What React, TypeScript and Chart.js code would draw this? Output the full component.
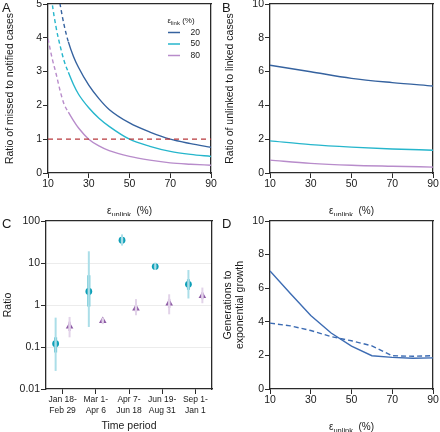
import React, { useEffect, useRef } from "react";
import { Chart, registerables } from "chart.js";

Chart.register(...registerables);

const FONT = "'Liberation Sans', Arial, Helvetica, sans-serif";
const W = 220;
const H = 216;

// ---------- Panel A: ratio of missed to notified cases ----------
const epsA = [10, 12, 14, 16, 18, 20, 22.5, 25, 30, 35, 40, 50, 60, 70, 80, 90];
const missed20 = [7.9, 6.7, 5.7, 4.97, 4.35, 3.88, 3.45, 3.12, 2.6, 2.2, 1.88, 1.48, 1.21, 1.0, 0.87, 0.76];
const missed50 = [6.2, 5.05, 4.3, 3.75, 3.3, 2.98, 2.62, 2.33, 1.93, 1.62, 1.38, 1.0, 0.79, 0.64, 0.55, 0.49];
const missed80 = [3.97, 3.4, 2.93, 2.42, 2.02, 1.8, 1.55, 1.33, 1.0, 0.8, 0.66, 0.49, 0.38, 0.3, 0.26, 0.23];
const dashedUntilEps = 20;
const referenceRatio = 1;
const linkLabels = ["20", "50", "80"];

// ---------- Panel B: ratio of unlinked to linked cases ----------
const epsB = [10, 30, 50, 70, 90];
const unlinked20 = [6.38, 5.99, 5.6, 5.35, 5.15];
const unlinked50 = [1.9, 1.68, 1.53, 1.42, 1.35];
const unlinked80 = [0.76, 0.57, 0.46, 0.4, 0.35];

// ---------- Panel C: ratios by time period ----------
const periods = [
  ["Jan 18-", "Feb 29"],
  ["Mar 1-", "Apr 6"],
  ["Apr 7-", "Jun 18"],
  ["Jun 19-", "Aug 31"],
  ["Sep 1-", "Jan 1"],
];
const circleRatio = [0.12, 2.1, 35, 8.2, 3.1];
const circleLo95 = [0.027, 0.3, 26, 6.8, 1.43];
const circleHi95 = [0.5, 19, 48, 10.2, 6.8];
const circleLo50 = [0.074, 0.92, 31, 7.6, 2.3];
const circleHi50 = [0.17, 5.1, 40, 9, 4.1];
const triRatio = [0.31, 0.42, 0.83, 1.1, 1.65];
const triLo95 = [0.17, 0.35, 0.57, 0.6, 1.1];
const triHi95 = [0.52, 0.5, 1.38, 1.8, 2.6];
const triLo50 = [0.24, 0.39, 0.7, 0.85, 1.38];
const triHi50 = [0.4, 0.46, 1.0, 1.4, 2.0];
const logTickValues = [0.01, 0.1, 1, 10, 100];
const logTickLabels = ["0.01", "0.1", "1", "10", "100"];

// ---------- Panel D: generations to exponential growth ----------
const epsD = [10, 20, 30, 40, 50, 60, 70, 80, 90];
const genSolid = [7.03, 5.68, 4.38, 3.33, 2.55, 1.98, 1.88, 1.83, 1.85];
const genDashed = [3.92, 3.76, 3.48, 3.12, 2.87, 2.57, 1.98, 1.95, 1.98];

const epsTicks = [10, 30, 50, 70, 90];

const BLUE = "#35629f";
const CYAN = "#26b6cc";
const PURPLE = "#b88ccb";
const RED = "#b8393c";
const DBLUE = "#3d6cb3";
const BOX = "#2a2a2a";
const TXT = "#1a1a1a";
const FRAME_W = 1.3;

type Area = { l: number; t: number; r: number; b: number };

function xy(xs: number[], ys: number[]) {
  return xs.map((x, i) => ({ x, y: ys[i] }));
}

function drawEpsLabel(ctx: CanvasRenderingContext2D, cx: number, y: number, sub: string, big: number, small: number, gap: string) {
  ctx.textBaseline = "alphabetic";
  ctx.textAlign = "left";
  ctx.font = `${big}px ${FONT}`;
  const w1 = ctx.measureText("ε").width;
  const w3 = ctx.measureText(gap + "(%)").width;
  ctx.font = `${small}px ${FONT}`;
  const w2 = ctx.measureText(sub).width;
  let x = cx - (w1 + w2 + w3) / 2;
  ctx.font = `${big}px ${FONT}`;
  ctx.fillText("ε", x, y);
  x += w1;
  ctx.font = `${small}px ${FONT}`;
  ctx.fillText(sub, x, y + small * 0.35);
  x += w2;
  ctx.font = `${big}px ${FONT}`;
  ctx.fillText(gap + "(%)", x, y);
}

type Deco = {
  letter: string;
  yTitle: string[];
  yTitleX: number[];
  xTitle: string | null; // null => epsilon unlink title
  legend?: boolean;
};

function decoPlugin(d: Deco) {
  return {
    id: "deco" + d.letter,
    afterDraw(chart: any) {
      const ctx: CanvasRenderingContext2D = chart.ctx;
      const a = chart.chartArea;
      ctx.save();
      ctx.fillStyle = TXT;
      // panel letter
      ctx.font = `13px ${FONT}`;
      ctx.textAlign = "left";
      ctx.textBaseline = "alphabetic";
      ctx.fillText(d.letter, 2, 12);
      // y title
      const cy = (a.top + a.bottom) / 2;
      ctx.font = `10.5px ${FONT}`;
      d.yTitle.forEach((line, i) => {
        ctx.save();
        ctx.translate(d.yTitleX[i], cy);
        ctx.rotate(-Math.PI / 2);
        ctx.textAlign = "center";
        ctx.textBaseline = "middle";
        ctx.fillText(line, 0, 0);
        ctx.restore();
      });
      // x title
      const cx = (a.left + a.right) / 2;
      if (d.xTitle === null) {
        drawEpsLabel(ctx, cx, 214, "unlink", 10, 7.5, "  ");
      } else {
        ctx.font = `10.5px ${FONT}`;
        ctx.textAlign = "center";
        ctx.textBaseline = "middle";
        ctx.fillText(d.xTitle, cx, 210);
      }
      // legend
      if (d.legend) {
        drawEpsLabel(ctx, 181, 23, "link", 8, 6, " ");
        const cols = [BLUE, CYAN, PURPLE];
        const rows = [32.5, 44, 55.5];
        rows.forEach((ry, i) => {
          ctx.strokeStyle = cols[i];
          ctx.lineWidth = 1.5;
          ctx.beginPath();
          ctx.moveTo(168, ry);
          ctx.lineTo(180, ry);
          ctx.stroke();
          ctx.font = `8.5px ${FONT}`;
          ctx.textAlign = "right";
          ctx.textBaseline = "middle";
          ctx.fillStyle = TXT;
          ctx.fillText(linkLabels[i], 200, ry);
        });
      }
      ctx.restore();
    },
  };
}

function axisCommon(extra: any = {}) {
  return {
    border: { display: true, color: BOX, width: FRAME_W },
    grid: {
      display: true,
      drawOnChartArea: false,
      drawTicks: true,
      tickLength: 5,
      tickColor: BOX,
      tickWidth: 1,
      lineWidth: 1,
      ...(extra.grid || {}),
    },
    ticks: {
      font: { family: FONT, size: 10.5 },
      color: TXT,
      maxRotation: 0,
      autoSkip: false,
      ...(extra.ticks || {}),
    },
  };
}

// companion axes without ticks that draw the top and right sides of the frame
function frameAxis(position: "top" | "right") {
  const horizontal = position === "top";
  return {
    type: "linear",
    position,
    min: 0,
    max: 1,
    display: true,
    border: { display: true, color: BOX, width: FRAME_W },
    grid: { display: false, drawTicks: false },
    ticks: { display: false },
    afterFit: (s: any) => {
      if (horizontal) s.height = 0;
      else s.width = 0;
      s.paddingLeft = 0;
      s.paddingRight = 0;
      s.paddingTop = 0;
      s.paddingBottom = 0;
    },
  };
}

function baseOptions(area: Area, xScale: any, yScale: any) {
  return {
    responsive: false,
    maintainAspectRatio: false,
    animation: false,
    devicePixelRatio: 1,
    layout: { padding: { left: 0, top: area.t, right: W - area.r, bottom: 0 } },
    plugins: { legend: { display: false }, tooltip: { enabled: false }, title: { display: false } },
    elements: { point: { radius: 0 }, line: { borderWidth: 1.4 } },
    scales: {
      x: {
        ...xScale,
        position: "bottom",
        afterFit: (s: any) => {
          s.height = H - area.b;
          s.paddingLeft = 0;
          s.paddingRight = 0;
        },
      },
      y: {
        ...yScale,
        position: "left",
        afterFit: (s: any) => {
          s.width = area.l;
          s.paddingTop = 0;
          s.paddingBottom = 0;
        },
      },
      frameTop: frameAxis("top"),
      frameRight: frameAxis("right"),
    },
  };
}

function epsAxis() {
  return {
    type: "linear",
    min: 10,
    max: 90,
    afterBuildTicks: (s: any) => {
      s.ticks = epsTicks.map((v) => ({ value: v }));
    },
    ...axisCommon({ ticks: { padding: 0 } }),
  };
}

function linearY(max: number, step: number) {
  const vals: number[] = [];
  for (let v = 0; v <= max; v += step) vals.push(v);
  return {
    type: "linear",
    min: 0,
    max,
    afterBuildTicks: (s: any) => {
      s.ticks = vals.map((v) => ({ value: v }));
    },
    ...axisCommon({ ticks: { padding: 1 } }),
  };
}

function lineDs(data: any[], color: string, extra: any = {}) {
  return {
    data,
    xAxisID: "x",
    yAxisID: "y",
    borderColor: color,
    backgroundColor: color,
    borderWidth: 1.4,
    pointRadius: 0,
    showLine: true,
    fill: false,
    ...extra,
  };
}

const dashSeg = {
  borderDash: (c: any) => (c.p1.parsed.x <= dashedUntilEps ? [4, 3] : undefined),
};

function buildA() {
  const area = { l: 48, t: 4, r: 211, b: 173 };
  return {
    type: "scatter",
    data: {
      datasets: [
        lineDs([{ x: 10, y: referenceRatio }, { x: 90, y: referenceRatio }], RED, { borderDash: [5, 4], borderWidth: 1.2 }),
        lineDs(xy(epsA, missed80), PURPLE, { cubicInterpolationMode: "monotone", segment: dashSeg }),
        lineDs(xy(epsA, missed50), CYAN, { cubicInterpolationMode: "monotone", segment: dashSeg }),
        lineDs(xy(epsA, missed20), BLUE, { cubicInterpolationMode: "monotone", segment: dashSeg }),
      ],
    },
    options: baseOptions(area, epsAxis(), linearY(5, 1)),
    plugins: [
      decoPlugin({
        letter: "A",
        yTitle: ["Ratio of missed to notified cases"],
        yTitleX: [10],
        xTitle: null,
        legend: true,
      }),
    ],
  };
}

function buildB() {
  const area = { l: 50, t: 4, r: 213, b: 173 };
  return {
    type: "scatter",
    data: {
      datasets: [
        lineDs(xy(epsB, unlinked80), PURPLE, { cubicInterpolationMode: "monotone" }),
        lineDs(xy(epsB, unlinked50), CYAN, { cubicInterpolationMode: "monotone" }),
        lineDs(xy(epsB, unlinked20), BLUE, { cubicInterpolationMode: "monotone" }),
      ],
    },
    options: baseOptions(area, epsAxis(), linearY(10, 2)),
    plugins: [
      decoPlugin({
        letter: "B",
        yTitle: ["Ratio of unlinked to linked cases"],
        yTitleX: [10],
        xTitle: null,
      }),
    ],
  };
}

function buildC() {
  const area = { l: 46, t: 5, r: 212, b: 173 };
  const dodge = 0.21;
  const ds: any[] = [];
  circleRatio.forEach((_, i) => {
    const x = i + 1 - dodge;
    ds.push(lineDs([{ x, y: circleLo95[i] }, { x, y: circleHi95[i] }], "#abdee8", { borderWidth: 2 }));
    ds.push(lineDs([{ x, y: circleLo50[i] }, { x, y: circleHi50[i] }], "#52bccd", { borderWidth: 3 }));
  });
  triRatio.forEach((_, i) => {
    const x = i + 1 + dodge;
    ds.push(lineDs([{ x, y: triLo95[i] }, { x, y: triHi95[i] }], "#e2d3e9", { borderWidth: 2 }));
    ds.push(lineDs([{ x, y: triLo50[i] }, { x, y: triHi50[i] }], "#cdb0d9", { borderWidth: 2.5 }));
  });
  ds.push({
    data: circleRatio.map((y, i) => ({ x: i + 1 - dodge, y })),
    xAxisID: "x",
    yAxisID: "y",
    showLine: false,
    pointStyle: "circle",
    pointRadius: 3.4,
    backgroundColor: "#0d9fb7",
    borderColor: "#0d9fb7",
    borderWidth: 0,
  });
  ds.push({
    data: triRatio.map((y, i) => ({ x: i + 1 + dodge, y })),
    xAxisID: "x",
    yAxisID: "y",
    showLine: false,
    pointStyle: "triangle",
    pointRadius: 4.4,
    backgroundColor: "#8d5ba5",
    borderColor: "#8d5ba5",
    borderWidth: 0,
  });
  const xScale = {
    type: "linear",
    min: 0.5,
    max: 5.5,
    afterBuildTicks: (s: any) => {
      s.ticks = periods.map((_, i) => ({ value: i + 1 }));
    },
    ...axisCommon({
      ticks: {
        padding: 0,
        font: { family: FONT, size: 8.5, lineHeight: 1.3 },
        callback: (v: number) => periods[Math.round(v) - 1],
      },
    }),
  };
  const yScale = {
    type: "logarithmic",
    min: 0.01,
    max: 100,
    afterBuildTicks: (s: any) => {
      s.ticks = logTickValues.map((v) => ({ value: v }));
    },
    ...axisCommon({
      grid: {
        drawOnChartArea: true,
        color: (c: any) => (c.tick && c.tick.value > 0.011 && c.tick.value < 99 ? "#ececec" : "rgba(0,0,0,0)"),
      },
      ticks: {
        padding: 1,
        callback: (v: number) => {
          const i = logTickValues.findIndex((t) => Math.abs(t - v) / t < 1e-6);
          return i >= 0 ? logTickLabels[i] : "";
        },
      },
    }),
  };
  return {
    type: "scatter",
    data: { datasets: ds },
    options: baseOptions(area, xScale, yScale),
    plugins: [
      decoPlugin({
        letter: "C",
        yTitle: ["Ratio"],
        yTitleX: [8],
        xTitle: "Time period",
      }),
    ],
  };
}

function buildD() {
  const area = { l: 50, t: 5, r: 213, b: 173 };
  return {
    type: "scatter",
    data: {
      datasets: [
        lineDs(xy(epsD, genDashed), DBLUE, { borderDash: [5, 3] }),
        lineDs(xy(epsD, genSolid), DBLUE),
      ],
    },
    options: baseOptions(area, epsAxis(), linearY(10, 2)),
    plugins: [
      decoPlugin({
        letter: "D",
        yTitle: ["Generations to", "exponential growth"],
        yTitleX: [8, 20],
        xTitle: null,
      }),
    ],
  };
}

function Panel({ build, left, top }: { build: () => any; left: number; top: number }) {
  const ref = useRef<HTMLCanvasElement>(null);
  useEffect(() => {
    const chart = new Chart(ref.current as HTMLCanvasElement, build() as any);
    return () => chart.destroy();
  }, [build]);
  return (
    <canvas
      ref={ref}
      width={W}
      height={H}
      style={{ position: "absolute", left, top, width: W, height: H, display: "block" }}
    />
  );
}

export default function App() {
  useEffect(() => {
    document.body.style.margin = "0";
    document.body.style.background = "#ffffff";
  }, []);
  return (
    <div style={{ position: "relative", width: 440, height: 432, background: "#fff", overflow: "hidden" }}>
      <Panel build={buildA} left={0} top={0} />
      <Panel build={buildB} left={220} top={0} />
      <Panel build={buildC} left={0} top={216} />
      <Panel build={buildD} left={220} top={216} />
    </div>
  );
}
